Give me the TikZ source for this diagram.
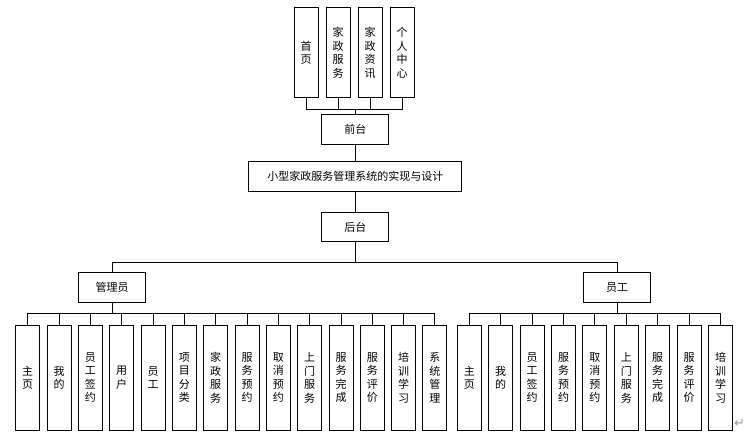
\documentclass[tikz,border=0pt]{standalone}
\usepackage{fontspec}
\setmainfont{Noto Sans CJK SC}
\newfontfamily\symfont{DejaVu Sans}
\usetikzlibrary{positioning}

\tikzset{
  modbox/.style={draw, line width=1pt, inner sep=0pt, align=center,
    font=\fontsize{11}{13.5}\selectfont},
  vbox/.style={modbox, minimum width=24pt, minimum height=105.5pt},
  topbox/.style={modbox, minimum width=24pt, minimum height=89.7pt},
  hbox/.style={modbox, minimum width=66.7pt, minimum height=29.5pt},
  link/.style={line width=1pt}
}

\begin{document}
\begin{tikzpicture}[x=1pt,y=-1pt]
  \useasboundingbox (0,0) rectangle (748,436);

  % front end
  \foreach \x/\t [count=\i] in {306/{首\\页}, 338/{家\\政\\服\\务}, 370/{家\\政\\资\\讯}, 402/{个\\人\\中\\心}}
    \node[topbox] (top\i) at (\x,52.8) {\t};

  \node[hbox] (front) at (355.3,129.7) {前台};
  \node[modbox, minimum width=212.7pt, minimum height=30pt] (sys) at (355.3,176.7) {小型家政服务管理系统的实现与设计};
  \node[hbox] (back) at (355.3,227) {后台};

  \node[hbox] (admin) at (112,287.7) {管理员};
  \node[hbox] (staff) at (617,287.7) {员工};

  % admin modules
  \foreach \t [count=\i] in {{主\\页}, {我\\的}, {员\\工\\签\\约}, {用\\户}, {员\\工}, {项\\目\\分\\类}, {家\\政\\服\\务}, {服\\务\\预\\约}, {取\\消\\预\\约}, {上\\门\\服\\务}, {服\\务\\完\\成}, {服\\务\\评\\价}, {培\\训\\学\\习}, {系\\统\\管\\理}}
    \node[vbox] (a\i) at ({27.7+31.33*(\i-1)},377.75) {\t};

  % staff modules
  \foreach \t [count=\i] in {{主\\页}, {我\\的}, {员\\工\\签\\约}, {服\\务\\预\\约}, {取\\消\\预\\约}, {上\\门\\服\\务}, {服\\务\\完\\成}, {服\\务\\评\\价}, {培\\训\\学\\习}}
    \node[vbox] (s\i) at ({469.3+31.4*(\i-1)},377.75) {\t};

  % connectors
  \foreach \i in {1,...,4}
    \draw[link] (top\i.south) -- ++(0,11.3) -| (front.north);
  \draw[link] (front) -- (sys);
  \draw[link] (sys) -- (back);
  \draw[link] (back.south) -- ++(0,20.3) -| (admin.north);
  \draw[link] (back.south) -- ++(0,20.3) -| (staff.north);
  \foreach \i in {1,...,14}
    \draw[link] (admin.south) -- ++(0,10.6) -| (a\i.north);
  \foreach \i in {1,...,9}
    \draw[link] (staff.south) -- ++(0,10.6) -| (s\i.north);

  \node[text=black!40, font=\symfont\fontsize{13}{13}\selectfont, inner sep=0pt] (mark) at (739.5,423.5) {↵};
\end{tikzpicture}
\end{document}
